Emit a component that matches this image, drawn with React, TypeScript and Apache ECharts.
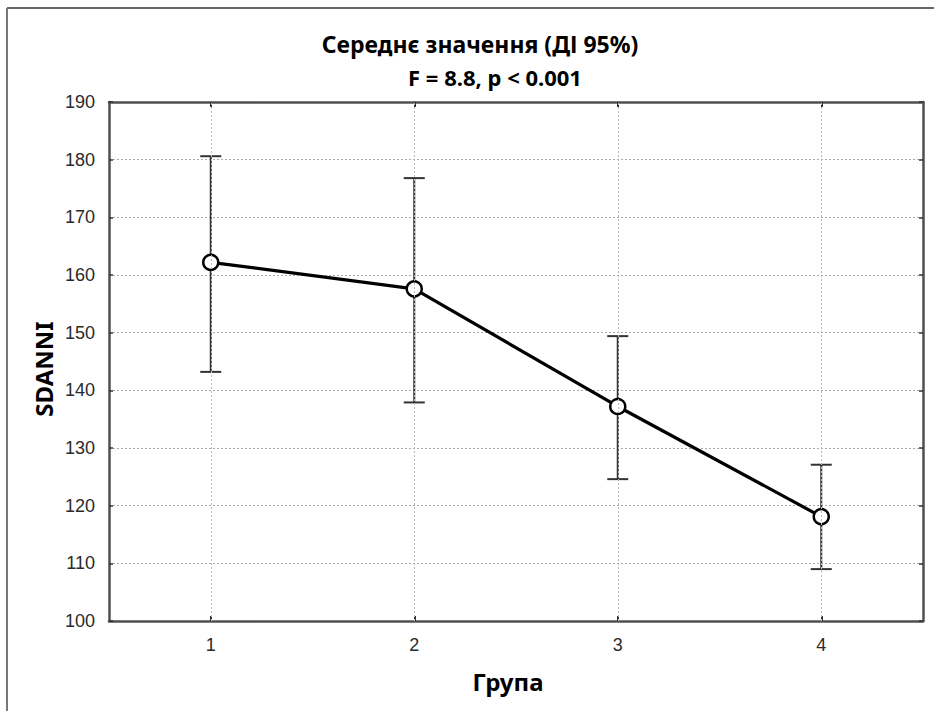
import { useEffect, useRef } from "react";
import * as echarts from "echarts";

const groups = ["1", "2", "3", "4"];
const means = [162.2, 157.6, 137.2, 118.1];
const ciLow = [143.2, 137.9, 124.6, 109.0];
const ciHigh = [180.6, 176.8, 149.4, 127.1];
const yMin = 100;
const yMax = 190;
const yStep = 10;
const titleLines = ["Середнє значення (ДІ 95%)", "F = 8.8, p < 0.001"];
const xName = "Група";
const yName = "SDANNI";

const TITLE_FONT = "'Noto Sans', 'Open Sans', sans-serif";
const TICK_FONT = "'Liberation Sans', Arial, sans-serif";
const AXIS_COLOR = "#505050";

export default function App() {
  const ref = useRef<HTMLDivElement>(null);
  useEffect(() => {
    if (!ref.current) return;
    const chart = echarts.init(ref.current, null, { renderer: "svg" });
    const tickLabel = { fontFamily: TICK_FONT, fontSize: 18, color: "#2a2a2a" };
    const bold = { fontFamily: TITLE_FONT, fontWeight: "bold", fill: "#000", textAlign: "center", textVerticalAlign: "middle" };
    const option: any = {
      animation: false,
      backgroundColor: "#fff",
      grid: { left: 109, right: 11, top: 102, bottom: 90, containLabel: false },
      graphic: [
        { type: "line", shape: { x1: 7, y1: 8, x2: 934, y2: 8 }, style: { stroke: "#666", lineWidth: 2 } },
        { type: "line", shape: { x1: 7, y1: 8, x2: 7, y2: 711 }, style: { stroke: "#777", lineWidth: 2 } },
        { type: "text", x: 480, y: 44, style: { ...bold, text: titleLines[0], fontSize: 23 } },
        { type: "text", x: 495, y: 77, style: { ...bold, text: titleLines[1], fontSize: 22 } },
        { type: "text", x: 508, y: 681, style: { ...bold, text: xName, fontSize: 24 } },
        { type: "text", x: 43, y: 369, rotation: Math.PI / 2, style: { ...bold, text: yName, fontSize: 24 } },
      ],
      xAxis: [
        {
          type: "category",
          data: groups,
          position: "bottom",
          boundaryGap: true,
          axisLine: { show: true, lineStyle: { color: AXIS_COLOR, width: 2.5 } },
          axisTick: { show: true, inside: true, alignWithLabel: true, length: 5, lineStyle: { color: "#333", width: 2 } },
          axisLabel: { ...tickLabel, margin: 15 },
          splitLine: { show: false },
        },
        {
          type: "category",
          data: groups,
          position: "top",
          boundaryGap: true,
          axisLine: { show: true, lineStyle: { color: AXIS_COLOR, width: 2.5 } },
          axisTick: { show: true, inside: true, alignWithLabel: true, length: 5, lineStyle: { color: "#333", width: 2 } },
          axisLabel: { show: false },
          splitLine: { show: false },
        },
      ],
      yAxis: [
        {
          type: "value",
          min: yMin,
          max: yMax,
          interval: yStep,
          position: "left",
          axisLine: { show: true, lineStyle: { color: AXIS_COLOR, width: 2.5 } },
          axisTick: { show: true, inside: true, length: 4, lineStyle: { color: "#333", width: 1.5 } },
          axisLabel: { ...tickLabel, margin: 14 },
          splitLine: { show: true, lineStyle: { color: "#aaa", width: 1, type: [2, 2] } },
        },
        {
          type: "value",
          min: yMin,
          max: yMax,
          interval: yStep,
          position: "right",
          axisLine: { show: true, lineStyle: { color: AXIS_COLOR, width: 2.5 } },
          axisTick: { show: true, inside: true, length: 4, lineStyle: { color: "#333", width: 1.5 } },
          axisLabel: { show: false },
          splitLine: { show: false },
        },
      ],
      series: [
        {
          type: "custom",
          name: "CI",
          xAxisIndex: 0,
          yAxisIndex: 0,
          z: 1,
          encode: { x: 0, y: [1, 2] },
          data: groups.map((_, i) => [i, ciLow[i], ciHigh[i]]),
          renderItem: (params: any, api: any) => {
            const x = api.value(0);
            const pHi = api.coord([x, api.value(2)]);
            const pLo = api.coord([x, api.value(1)]);
            const hw = 10.5;
            const style = { stroke: "#333", lineWidth: 2 };
            return {
              type: "group",
              children: [
                { type: "line", shape: { x1: pHi[0], y1: pHi[1], x2: pLo[0], y2: pLo[1] }, style },
                { type: "line", shape: { x1: pHi[0] - hw, y1: pHi[1], x2: pHi[0] + hw, y2: pHi[1] }, style },
                { type: "line", shape: { x1: pLo[0] - hw, y1: pLo[1], x2: pLo[0] + hw, y2: pLo[1] }, style },
              ],
            };
          },
          markLine: {
            silent: true,
            symbol: "none",
            label: { show: false },
            lineStyle: { color: "#bbb", width: 1, type: [2, 2] },
            data: groups.map((g) => ({ xAxis: g })),
          },
        },
        {
          type: "line",
          name: "Mean",
          xAxisIndex: 0,
          yAxisIndex: 0,
          z: 3,
          data: means,
          symbol: "circle",
          symbolSize: 15,
          lineStyle: { color: "#000", width: 3.2 },
          itemStyle: { color: "#fff", borderColor: "#000", borderWidth: 2.5 },
        },
      ],
    };
    chart.setOption(option);
    return () => chart.dispose();
  }, []);
  return (
    <div
      ref={ref}
      style={{ position: "fixed", left: 0, top: 0, width: 934, height: 711, background: "#fff" }}
    />
  );
}
